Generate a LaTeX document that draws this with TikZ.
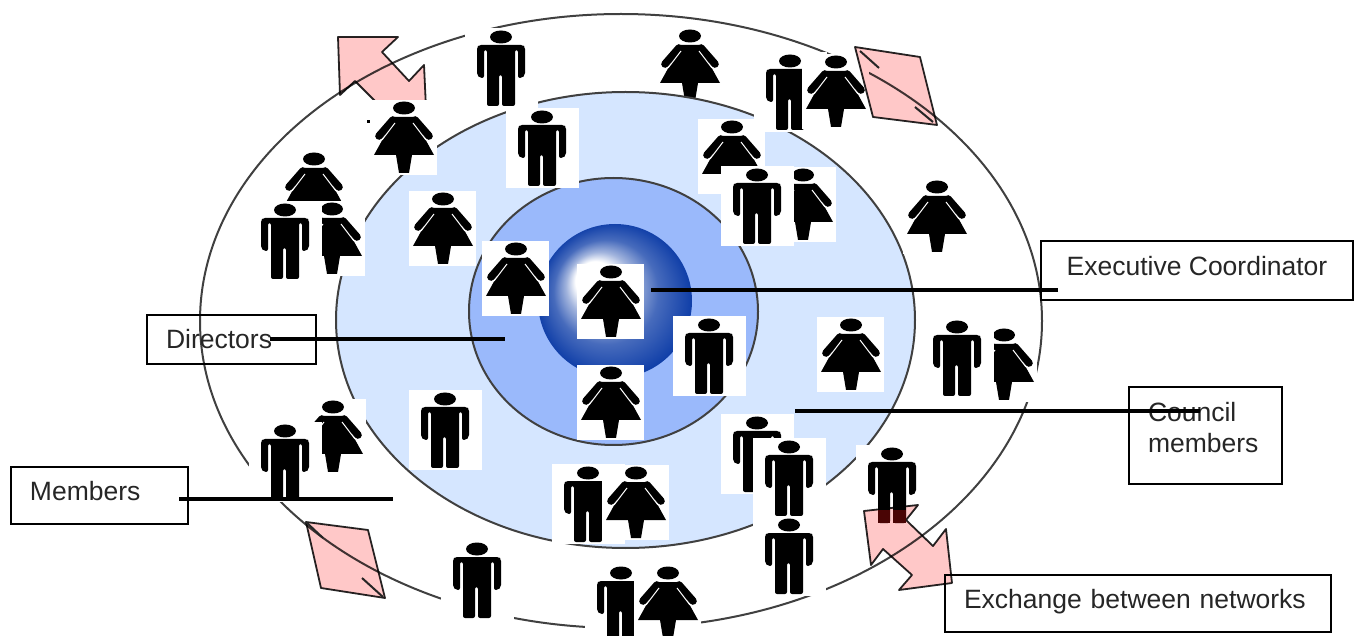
\documentclass[tikz,border=0pt]{standalone}
\usepackage{fontspec}
\setmainfont{Liberation Sans}

\definecolor{ringlight}{HTML}{D5E6FF}
\definecolor{ringmid}{HTML}{9AB9FB}
\definecolor{arrowpink}{HTML}{FFC8C8}
\definecolor{ballblue}{HTML}{0A3AA6}
\definecolor{legred}{HTML}{4A0505}

\pgfdeclareradialshading{coreball}{\pgfqpoint{-8.5bp}{8.5bp}}{%
    color(0bp)=(white); color(6.5bp)=(white); color(11bp)=(white!62!ballblue);
    color(17bp)=(white!25!ballblue); color(26bp)=(ballblue)}

\tikzset{
    ring/.style={draw=black!75, line width=1pt},
    notebox/.style={draw=black, line width=0.8pt, inner xsep=9.5pt, inner ysep=0pt, align=left,
        font=\fontsize{13.25}{15.5}\selectfont, text=black!85},
    leader/.style={line width=1.6pt},
    netarrow/.style={draw=black!85, line width=0.9pt, fill=arrowpink, line join=round},
    man/.pic={
        \fill[white] (-36,-9) rectangle (37,71);
        \fill[black] (0,0) ellipse (11 and 6.5);
        \fill[black, rounded corners=1pt] (-22,8) -- (22,8) -- (24,10) -- (24,38) -- (21,41) -- (17,41)
            -- (17,13) -- (14,13) -- (14,69) -- (1,69) -- (1,38) -- (-2,38) -- (-2,69) -- (-14,69)
            -- (-14,13) -- (-17,13) -- (-17,41) -- (-21,41) -- (-24,38) -- (-24,10) -- cycle;
    },
    woman/.pic={
        \fill[white] (-34,-8) rectangle (33,67);
        \fill[black] (0,0) ellipse (11 and 6.5);
        \fill[black] (-9,9) -- (9,9) -- (30,47) -- (8,47) -- (5,65) -- (-5,65) -- (-8,47) -- (-30,47) -- cycle;
        \draw[black, line width=3.8pt, line cap=round] (-11,12) -- (-25,28);
        \draw[black, line width=3.8pt, line cap=round] (11,12) -- (25,28);
        \draw[white, line width=0.5pt] (-9,15) -- (-22,32);
        \draw[white, line width=0.5pt] (9,15) -- (22,32);
    },
}

\begin{document}
\begin{tikzpicture}[x=0.5pt, y=-0.5pt, >=stealth]
    \useasboundingbox (0,0) rectangle (1356,636);
    % Rings
    \draw[ring] (621,321) ellipse (421 and 307);
    \pic at (690,36) {woman};
    \draw[ring, fill=ringlight] (625.5,320) ellipse (289.5 and 228);
    \draw[ring, fill=ringmid] (613.5,311.5) ellipse (144.5 and 133.5);
    \shade[shading=coreball] (615,301) circle (77);
    % Arrow behind the figures
    \draw[netarrow, blend mode=multiply] (338,37) -- (398,37) -- (382,52) -- (409,81) -- (424,65) -- (426,108) -- (382,108)
        -- (355,81) -- (340,95) -- cycle;
    \fill[black] (367,120) rectangle (370,123);
    % Members, top
    \pic at (501,37) {man};
    \pic at (790,61) {man};
    \pic at (836,62) {woman};
    \pic at (937,187) {woman};
    \pic at (314,159) {woman};
    \pic at (332,209) {woman};
    \pic at (285,210) {man};
    % Members, right
    \pic at (1004,335) {woman};
    \pic at (957,327) {man};
    % Members, bottom
    \pic at (333,407) {woman};
    \pic at (285,431) {man};
    \pic at (892,454) {man};
    \pic at (477,549) {man};
    \pic at (621,573) {man};
    \pic at (668,573) {woman};
    % Council members
    \pic at (404,108) {woman};
    \pic at (542,117) {man};
    \pic at (732,127) {woman};
    \pic at (803,175) {woman};
    \pic at (757,175) {man};
    \pic at (443,199) {woman};
    \pic at (851,325) {woman};
    \pic at (445,399) {man};
    \pic at (588,473) {man};
    \pic at (636,473) {woman};
    \pic at (757,423) {man};
    \pic at (789,447) {man};
    \pic at (789,525) {man};
    % Directors
    \pic at (516,249) {woman};
    \pic at (709,325) {man};
    \pic at (611,373) {woman};
    % Executive coordinator
    \pic at (611,272) {woman};
    % Exchange arrows
    \draw[netarrow, blend mode=multiply] (855,47) -- (920,57) -- (937,125) -- (873,117) -- cycle;
    \draw[netarrow, blend mode=multiply] (306,522) -- (368,530) -- (385,598) -- (321,588) -- cycle;
    \draw[netarrow, blend mode=multiply] (864,511) -- (918,505) -- (906,520) -- (933,546) -- (946,529) -- (952,583)
        -- (899,590) -- (912,575) -- (883,549) -- (871,565) -- cycle;
    \fill[legred] (878,510) rectangle (890,523);
    \fill[legred] (893,510) rectangle (906,523);
    \draw[black!85, line width=1pt] (860,51) -- (879,68);
    \draw[black!85, line width=1pt] (915,107) -- (933,122);
    \draw[black!85, line width=1pt] (306,522) -- (323,538);
    \draw[black!85, line width=1pt] (362,578) -- (383,597);
    % Labels
    \node[notebox, minimum width=156pt, minimum height=29.5pt, text depth=5pt] (exec) at (1197,270.5) {Executive Coordinator};
    \node[notebox, text width=65.5pt, minimum height=24.5pt, text depth=1pt] (directors) at (231.5,339.5) {Directors};
    \node[notebox, text width=57.5pt, minimum height=48.5pt, text depth=24pt] (council) at (1205.5,435.5) {Council\\members};
    \node[notebox, text width=69.5pt, minimum height=28.5pt, text depth=5pt] (members) at (99.5,495.5) {Members};
    \node[notebox, text width=174pt, minimum height=28.5pt, text depth=5pt] (exchange) at (1138,603.5) {Exchange between networks};
    % Leader lines
    \coordinate (execend) at (651,290);
    \coordinate (execstart) at (1058,290);
    \coordinate (dirstart) at (270,339);
    \coordinate (dirend) at (505,339);
    \coordinate (counend) at (795,411);
    \coordinate (counstart) at (1200,411);
    \coordinate (memstart) at (179,499);
    \coordinate (memend) at (393,499);
    \draw[leader] (execstart) -- (execend);
    \draw[leader] (dirstart) -- (dirend);
    \draw[leader] (counstart) -- (counend);
    \draw[leader] (memstart) -- (memend);
\end{tikzpicture}
\end{document}
